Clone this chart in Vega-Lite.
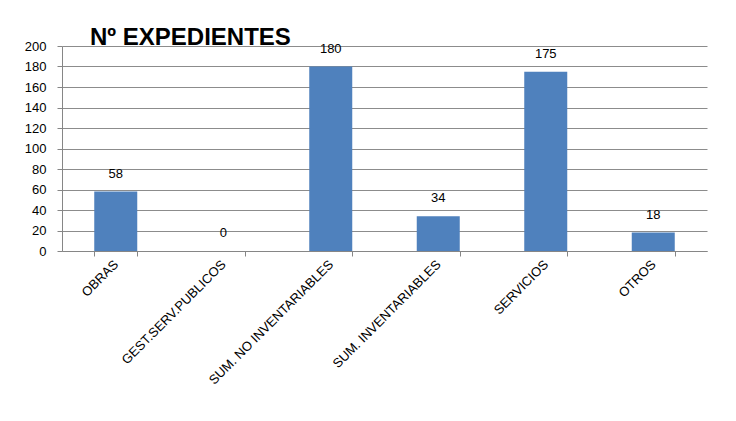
{
  "$schema": "https://vega.github.io/schema/vega-lite/v6.json",
  "autosize": {"type": "none"},
  "width": 645,
  "height": 205,
  "padding": {"left": 62, "top": 46, "right": 29, "bottom": 170},
  "background": "white",
  "title": {
    "text": "Nº EXPEDIENTES",
    "anchor": "start",
    "frame": "group",
    "dx": 28,
    "offset": -10,
    "fontSize": 24,
    "fontWeight": "bold",
    "font": "Liberation Sans",
    "color": "#000000"
  },
  "data": {
    "values": [
      {"tipo": "OBRAS", "n": 58},
      {"tipo": "GEST.SERV.PUBLICOS", "n": 0},
      {"tipo": "SUM. NO INVENTARIABLES", "n": 180},
      {"tipo": "SUM. INVENTARIABLES", "n": 34},
      {"tipo": "SERVICIOS", "n": 175},
      {"tipo": "OTROS", "n": 18}
    ]
  },
  "encoding": {
    "x": {
      "field": "tipo",
      "type": "nominal",
      "sort": null,
      "scale": {"paddingInner": 0.6, "paddingOuter": 0.3},
      "axis": {
        "title": null,
        "labelAngle": -45,
        "labelAlign": "right",
        "labelBaseline": "middle",
        "labelFontSize": 13,
        "labelFont": "Liberation Sans",
        "labelColor": "#000000",
        "labelPadding": 6,
        "tickBand": "extent",
        "tickSize": 5,
        "tickColor": "#868686",
        "domainColor": "#868686",
        "grid": false
      }
    },
    "y": {
      "field": "n",
      "type": "quantitative",
      "scale": {"domain": [0, 200], "nice": false},
      "axis": {
        "title": null,
        "values": [0, 20, 40, 60, 80, 100, 120, 140, 160, 180, 200],
        "labelFontSize": 13,
        "labelFont": "Liberation Sans",
        "labelColor": "#000000",
        "labelPadding": 11,
        "tickSize": 5,
        "tickColor": "#868686",
        "domainColor": "#868686",
        "gridColor": "#8C8C8C",
        "grid": true
      }
    }
  },
  "layer": [
    {"mark": {"type": "bar", "color": "#4F81BD"}},
    {
      "mark": {"type": "text", "baseline": "bottom", "dy": -11, "fontSize": 13, "font": "Liberation Sans", "color": "#000000"},
      "encoding": {"text": {"field": "n", "type": "quantitative"}}
    }
  ],
  "config": {"view": {"stroke": null}}
}
